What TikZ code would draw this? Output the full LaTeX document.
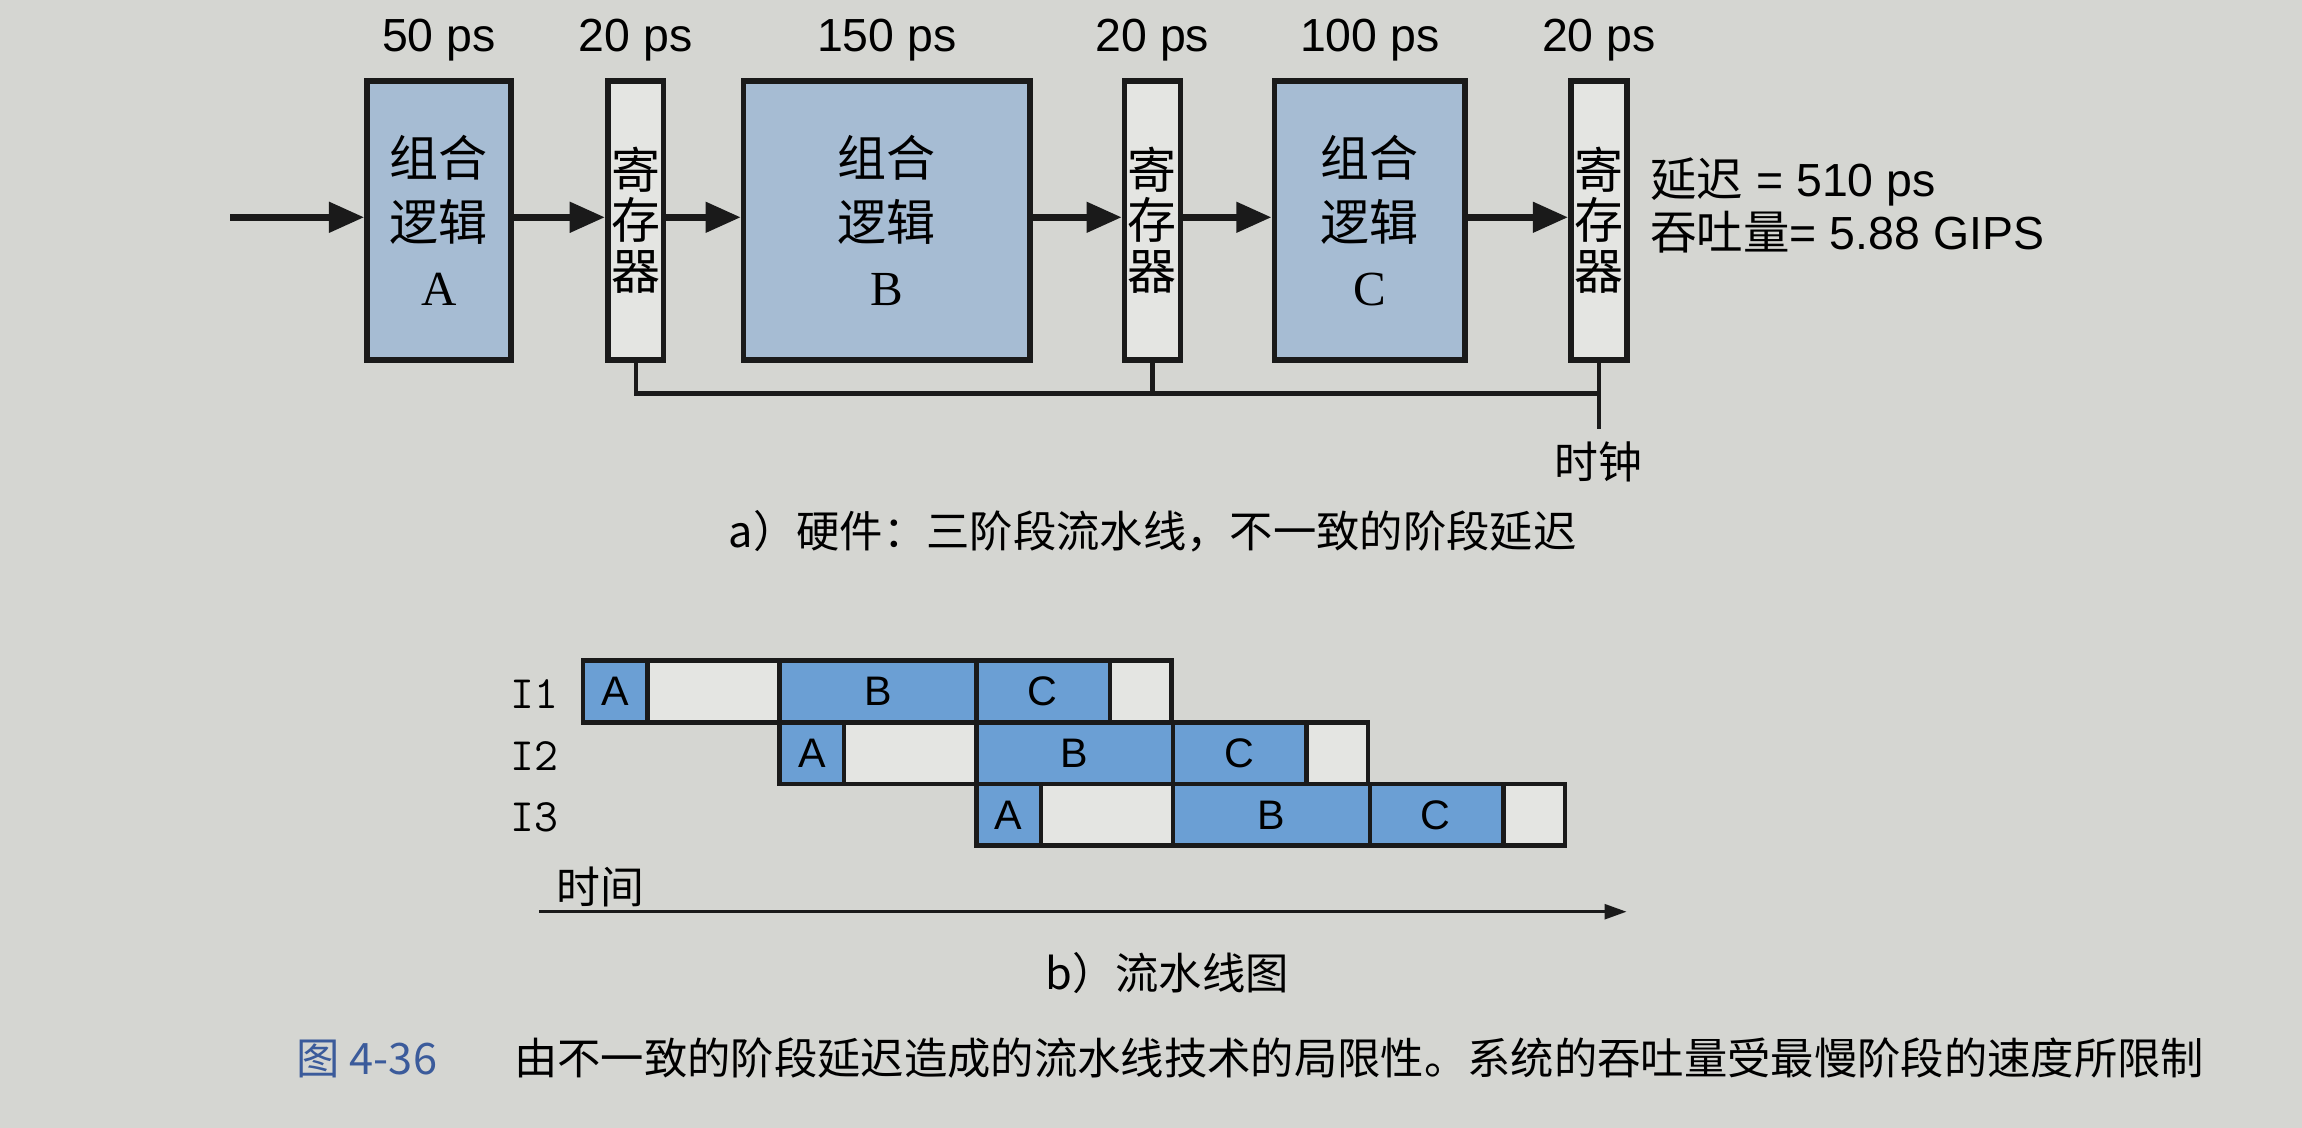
\documentclass[tikz,border=0pt]{standalone}
\usepackage{fontspec}
\setmainfont{Liberation Serif}
\setsansfont{Liberation Sans}
\newfontfamily\cjk{Noto Sans CJK SC}
\usetikzlibrary{positioning}
\usetikzlibrary{arrows.meta}
\definecolor{paper}{HTML}{D5D6D2}
\definecolor{logicblue}{HTML}{A6BCD3}
\definecolor{cellblue}{HTML}{6B9FD4}
\definecolor{blank}{HTML}{E4E5E2}
\definecolor{ink}{HTML}{1A1A1A}
\definecolor{capblue}{HTML}{3B5B9B}
\tikzset{logic/.style = {draw=ink, fill=logicblue, line width=2.2pt, minimum height=3.8cm, inner sep=1pt, align=center, font=\fontsize{19}{25}\selectfont}}
\tikzset{reg/.style = {draw=ink, fill=blank, line width=2.2pt, minimum width=0.76cm, minimum height=3.8cm, inner sep=1pt, align=center, font=\cjk\fontsize{19}{19.5}\selectfont}}
\tikzset{delay/.style = {font=\sffamily\fontsize{18}{22}\selectfont}}
\tikzset{flow/.style = {draw=ink, line width=2.6pt, -{Triangle[length=0.48cm, width=0.4cm]}}}
\tikzset{wire/.style = {draw=ink, line width=1.6pt}}
\tikzset{busy/.style = {draw=ink, fill=cellblue, line width=1.7pt}}
\tikzset{idle/.style = {draw=ink, fill=blank, line width=1.7pt}}
\tikzset{cell/.style = {font=\sffamily\fontsize{16}{18}\selectfont}}
\tikzset{capt/.style = {font=\cjk\fontsize{16.8}{20}\selectfont}}

\begin{document}
\begin{tikzpicture}[x=0.02cm, y=-0.02cm]
  \fill[paper] (0,0) rectangle (1568,768);
  \useasboundingbox (0,0) rectangle (1568,768);

  % a) hardware
  \node[logic, minimum width=1.96cm] (A) at (299,150) {{\cjk 组合}\\{\cjk 逻辑}\\A};
  \node[reg] (R1) at (433,150) {寄\\存\\器};
  \node[logic, minimum width=3.9cm] (B) at (604,150) {{\cjk 组合}\\{\cjk 逻辑}\\B};
  \node[reg] (R2) at (785,150) {寄\\存\\器};
  \node[logic, minimum width=2.6cm] (C) at (933,150) {{\cjk 组合}\\{\cjk 逻辑}\\C};
  \node[reg] (R3) at (1089,150) {寄\\存\\器};

  \node[delay, above=0.1cm of A] (dA) {50 ps};
  \node[delay, above=0.1cm of R1] (dR1) {20 ps};
  \node[delay, above=0.1cm of B] (dB) {150 ps};
  \node[delay, above=0.1cm of R2] (dR2) {20 ps};
  \node[delay, above=0.1cm of C] (dC) {100 ps};
  \node[delay, above=0.1cm of R3] (dR3) {20 ps};

  \coordinate (in) at (157,148);
  \draw[flow] (in) -- (A.west |- in);
  \draw[flow] (A.east |- in) -- (R1.west |- in);
  \draw[flow] (R1.east |- in) -- (B.west |- in);
  \draw[flow] (B.east |- in) -- (R2.west |- in);
  \draw[flow] (R2.east |- in) -- (C.west |- in);
  \draw[flow] (C.east |- in) -- (R3.west |- in);

  \coordinate (clkrow) at (0,268);
  \coordinate (clk) at (1089,292);
  \draw[wire] (R1.south) |- (R3.south |- clkrow) -- (clk);
  \draw[wire] (R2.south) -- (R2.south |- clkrow);
  \draw[wire] (R3.south) -- (R3.south |- clkrow);
  \node[delay, font=\cjk\fontsize{17}{20}\selectfont, below=0.05cm of clk] (clkname) {时钟};

  \node[delay, anchor=west] (lat) at (1118,124) {{\cjk 延迟} = 510 ps};
  \node[delay, anchor=west] (thr) at (1118,158) {{\cjk 吞吐量}= 5.88 GIPS};

  \node[capt] (capa) at (785,362) {a）硬件：三阶段流水线，不一致的阶段延迟};

  % b) pipeline diagram
  \foreach \r/\n in {0/1,1/2,2/3}{
    \node[font=\ttfamily\fontsize{18}{20}\selectfont] (I\n) at (364,{473+42*\r}) {I\n};
    \begin{scope}[shift={(134*\r,42*\r)}]
      \draw[busy] (397,450) rectangle (441,492);
      \draw[idle] (441,450) rectangle (531,492);
      \draw[busy] (531,450) rectangle (665,492);
      \draw[busy] (665,450) rectangle (756,492);
      \draw[idle] (756,450) rectangle (798,492);
      \node[cell] (a\n) at (419,471) {A};
      \node[cell] (b\n) at (598,471) {B};
      \node[cell] (c\n) at (710,471) {C};
    \end{scope}
  }

  \coordinate (t0) at (367,621);
  \coordinate (t1) at (1108,621);
  \draw[draw=ink, line width=1.3pt, -{Triangle[length=0.3cm, width=0.2cm]}] (t0) -- (t1);
  \node[font=\cjk\fontsize{17}{20}\selectfont] (time) at (409,604) {时间};

  \node[capt] (capb) at (795,663) {b）流水线图};

  \node[capt, anchor=west, text=capblue] (fignum) at (196,721) {图 4-36};
  \node[capt, anchor=west] (figtxt) at (344,721) {由不一致的阶段延迟造成的流水线技术的局限性。系统的吞吐量受最慢阶段的速度所限制};
\end{tikzpicture}
\end{document}
